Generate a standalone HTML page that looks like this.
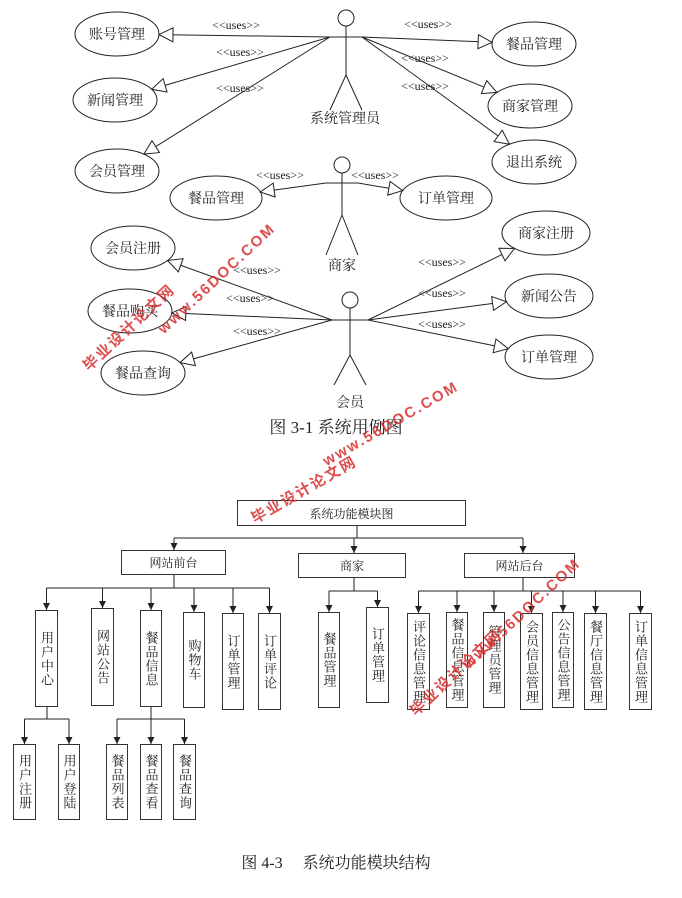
<!DOCTYPE html>
<html><head><meta charset="utf-8"><style>
body{margin:0;background:#fff;}
#w{position:relative;width:682px;height:898px;overflow:hidden;font-family:"Liberation Serif","Noto Serif CJK SC","Noto Sans CJK SC",serif;color:#222;}
.b{position:absolute;border:1.5px solid #333;box-sizing:border-box;display:flex;align-items:center;justify-content:center;font-size:12px;background:#fff;}
.v{writing-mode:vertical-rl;text-orientation:upright;font-size:13px;letter-spacing:1px;}
svg{position:absolute;left:0;top:0;}
.wm{position:absolute;color:#d83030;font:bold 15px "Liberation Sans","Noto Sans CJK SC",sans-serif;transform-origin:left top;opacity:.85;white-space:nowrap;letter-spacing:2px}
</style></head><body><div id="w">
<svg id="s" width="682" height="898" xmlns="http://www.w3.org/2000/svg" font-family="Liberation Serif, Noto Serif CJK SC, serif">
<defs>
<marker id="h" markerUnits="userSpaceOnUse" markerWidth="18" markerHeight="18" refX="15" refY="8" orient="auto"><path d="M1,1 L15,8 L1,15 Z" fill="#fff" stroke="#222" stroke-width="1"/></marker>
<marker id="d" markerUnits="userSpaceOnUse" markerWidth="8" markerHeight="8" refX="4" refY="7" orient="0"><path d="M0.5,0 L4,7 L7.5,0 Z" fill="#222"/></marker>
</defs>
<g id="g" stroke="#222" stroke-width="1" fill="none"></g>
<g id="t" fill="#222" font-size="14" text-anchor="middle"></g>
</svg>
<div class="b" style="left:237px;top:500px;width:229px;height:26px">系统功能模块图</div>
<div class="b" style="left:121px;top:550px;width:105px;height:25px">网站前台</div>
<div class="b" style="left:298px;top:553px;width:108px;height:25px">商家</div>
<div class="b" style="left:464px;top:553px;width:111px;height:25px">网站后台</div>
<div id="boxes"></div>
<div class="wm" style="left:78px;top:360px;transform:rotate(-43deg)">毕业设计论文网</div>
<div class="wm" style="left:155px;top:325px;transform:rotate(-43deg)">www.56DOC.COM</div>
<div class="wm" style="left:247px;top:510px;transform:rotate(-30deg)">毕业设计论文网</div>
<div class="wm" style="left:320px;top:455px;transform:rotate(-30deg)">www.56DOC.COM</div>
<div class="wm" style="left:405px;top:705px;transform:rotate(-43deg)">毕业设计论文网</div>
<div class="wm" style="left:460px;top:660px;transform:rotate(-43deg)">www.56DOC.COM</div>
</div>
<script>
var NS="http://www.w3.org/2000/svg",g=document.getElementById('g'),t=document.getElementById('t');
function el(p,n,a,txt){var e=document.createElementNS(NS,n);for(var k in a)e.setAttribute(k,a[k]);if(txt)e.textContent=txt;p.appendChild(e);return e;}
function line(x1,y1,x2,y2,m){var a={x1:x1,y1:y1,x2:x2,y2:y2};if(m)a['marker-end']='url(#'+m+')';el(g,'line',a);}
function txt(x,y,s,fs){el(t,'text',{x:x,y:y,'font-size':fs||14},s);}
function actor(x,hy,ay,by,ly,aw,lab,lx,lyy){el(g,'circle',{cx:x,cy:hy,r:8});line(x-aw,ay,x+aw,ay);line(x,hy+8,x,by);line(x,by,x-16,ly);line(x,by,x+16,ly);txt(lx||x,lyy,lab,14);}
function uc(cx,cy,rx,ry,lab,fx,fy,lx,ly){el(g,'ellipse',{cx:cx,cy:cy,rx:rx,ry:ry});txt(cx,cy+5,lab,14);
 var dx=fx-cx,dy=fy-cy,k=1/Math.sqrt(dx*dx/(rx*rx)+dy*dy/(ry*ry));line(fx,fy,cx+dx*k,cy+dy*k,'h');txt(lx,ly,'<<uses>>',12);}
actor(346,18,37,75,110,18,'系统管理员',345,123);
uc(117,34,42,22,'账号管理',330,37,236,29);
uc(115,100,42,22,'新闻管理',330,37,240,56);
uc(117,171,42,22,'会员管理',330,37,240,92);
uc(534,44,42,22,'餐品管理',362,37,428,28);
uc(530,106,42,22,'商家管理',362,37,425,62);
uc(534,162,42,22,'退出系统',362,37,425,90);
actor(342,165,183,215,255,16,'商家',342,270);
uc(216,198,46,22,'餐品管理',326,183,280,179);
uc(446,198,46,22,'订单管理',358,183,375,179);
actor(350,300,320,355,385,18,'会员',350,407);
uc(133,248,42,22,'会员注册',332,320,257,274);
uc(130,311,42,22,'餐品购买',332,320,250,302);
uc(143,373,42,22,'餐品查询',332,320,257,335);
uc(546,233,44,22,'商家注册',368,320,442,266);
uc(549,296,44,22,'新闻公告',368,320,442,297);
uc(549,357,44,22,'订单管理',368,320,442,328);
txt(336,433,'图 3-1 系统用例图',17);
// tree connectors
line(357,526,357,538);line(174,538,523,538);
line(174,538,174,550,'d');line(354,538,354,553,'d');line(523,538,523,553,'d');
function grp(sx,sy,hy,xs,ty){line(sx,sy,sx,hy);line(Math.min.apply(0,xs.concat(sx)),hy,Math.max.apply(0,xs.concat(sx)),hy);xs.forEach(function(x,i){line(x,hy,x,ty[i],'d');});}
var B=document.getElementById('boxes'),h='';
function box(x,w,y,hh,s){h+='<div class="b v" style="left:'+x+'px;top:'+y+'px;width:'+w+'px;height:'+hh+'px">'+s+'</div>';return [x+w/2,y];}
var f=[box(35,23,610,97,'用户中心'),box(91,23,608,98,'网站公告'),box(140,22,610,97,'餐品信息'),box(183,22,612,96,'购物车'),box(222,22,613,97,'订单管理'),box(258,23,613,97,'订单评论')];
grp(174,575,588,f.map(function(a){return a[0]}),f.map(function(a){return a[1]}));
var m=[box(318,22,612,96,'餐品管理'),box(366,23,607,96,'订单管理')];
grp(354,578,591,m.map(function(a){return a[0]}),m.map(function(a){return a[1]}));
var r=[box(407,23,613,97,'评论信息管理'),box(446,22,612,96,'餐品信息管理'),box(483,22,612,96,'管理员管理'),box(520,23,613,97,'会员信息管理'),box(552,22,612,96,'公告信息管理'),box(584,23,613,97,'餐厅信息管理'),box(629,23,613,97,'订单信息管理')];
grp(523,578,591,r.map(function(a){return a[0]}),r.map(function(a){return a[1]}));
var u=[box(13,23,744,76,'用户注册'),box(58,22,744,76,'用户登陆')];
grp(47,707,719,u.map(function(a){return a[0]}),u.map(function(a){return a[1]}));
var c=[box(106,22,744,76,'餐品列表'),box(140,22,744,76,'餐品查看'),box(173,23,744,76,'餐品查询')];
grp(151,707,719,c.map(function(a){return a[0]}),c.map(function(a){return a[1]}));
B.innerHTML=h;
txt(336,868,'图 4-3　 系统功能模块结构',16);
</script>
</body></html>
